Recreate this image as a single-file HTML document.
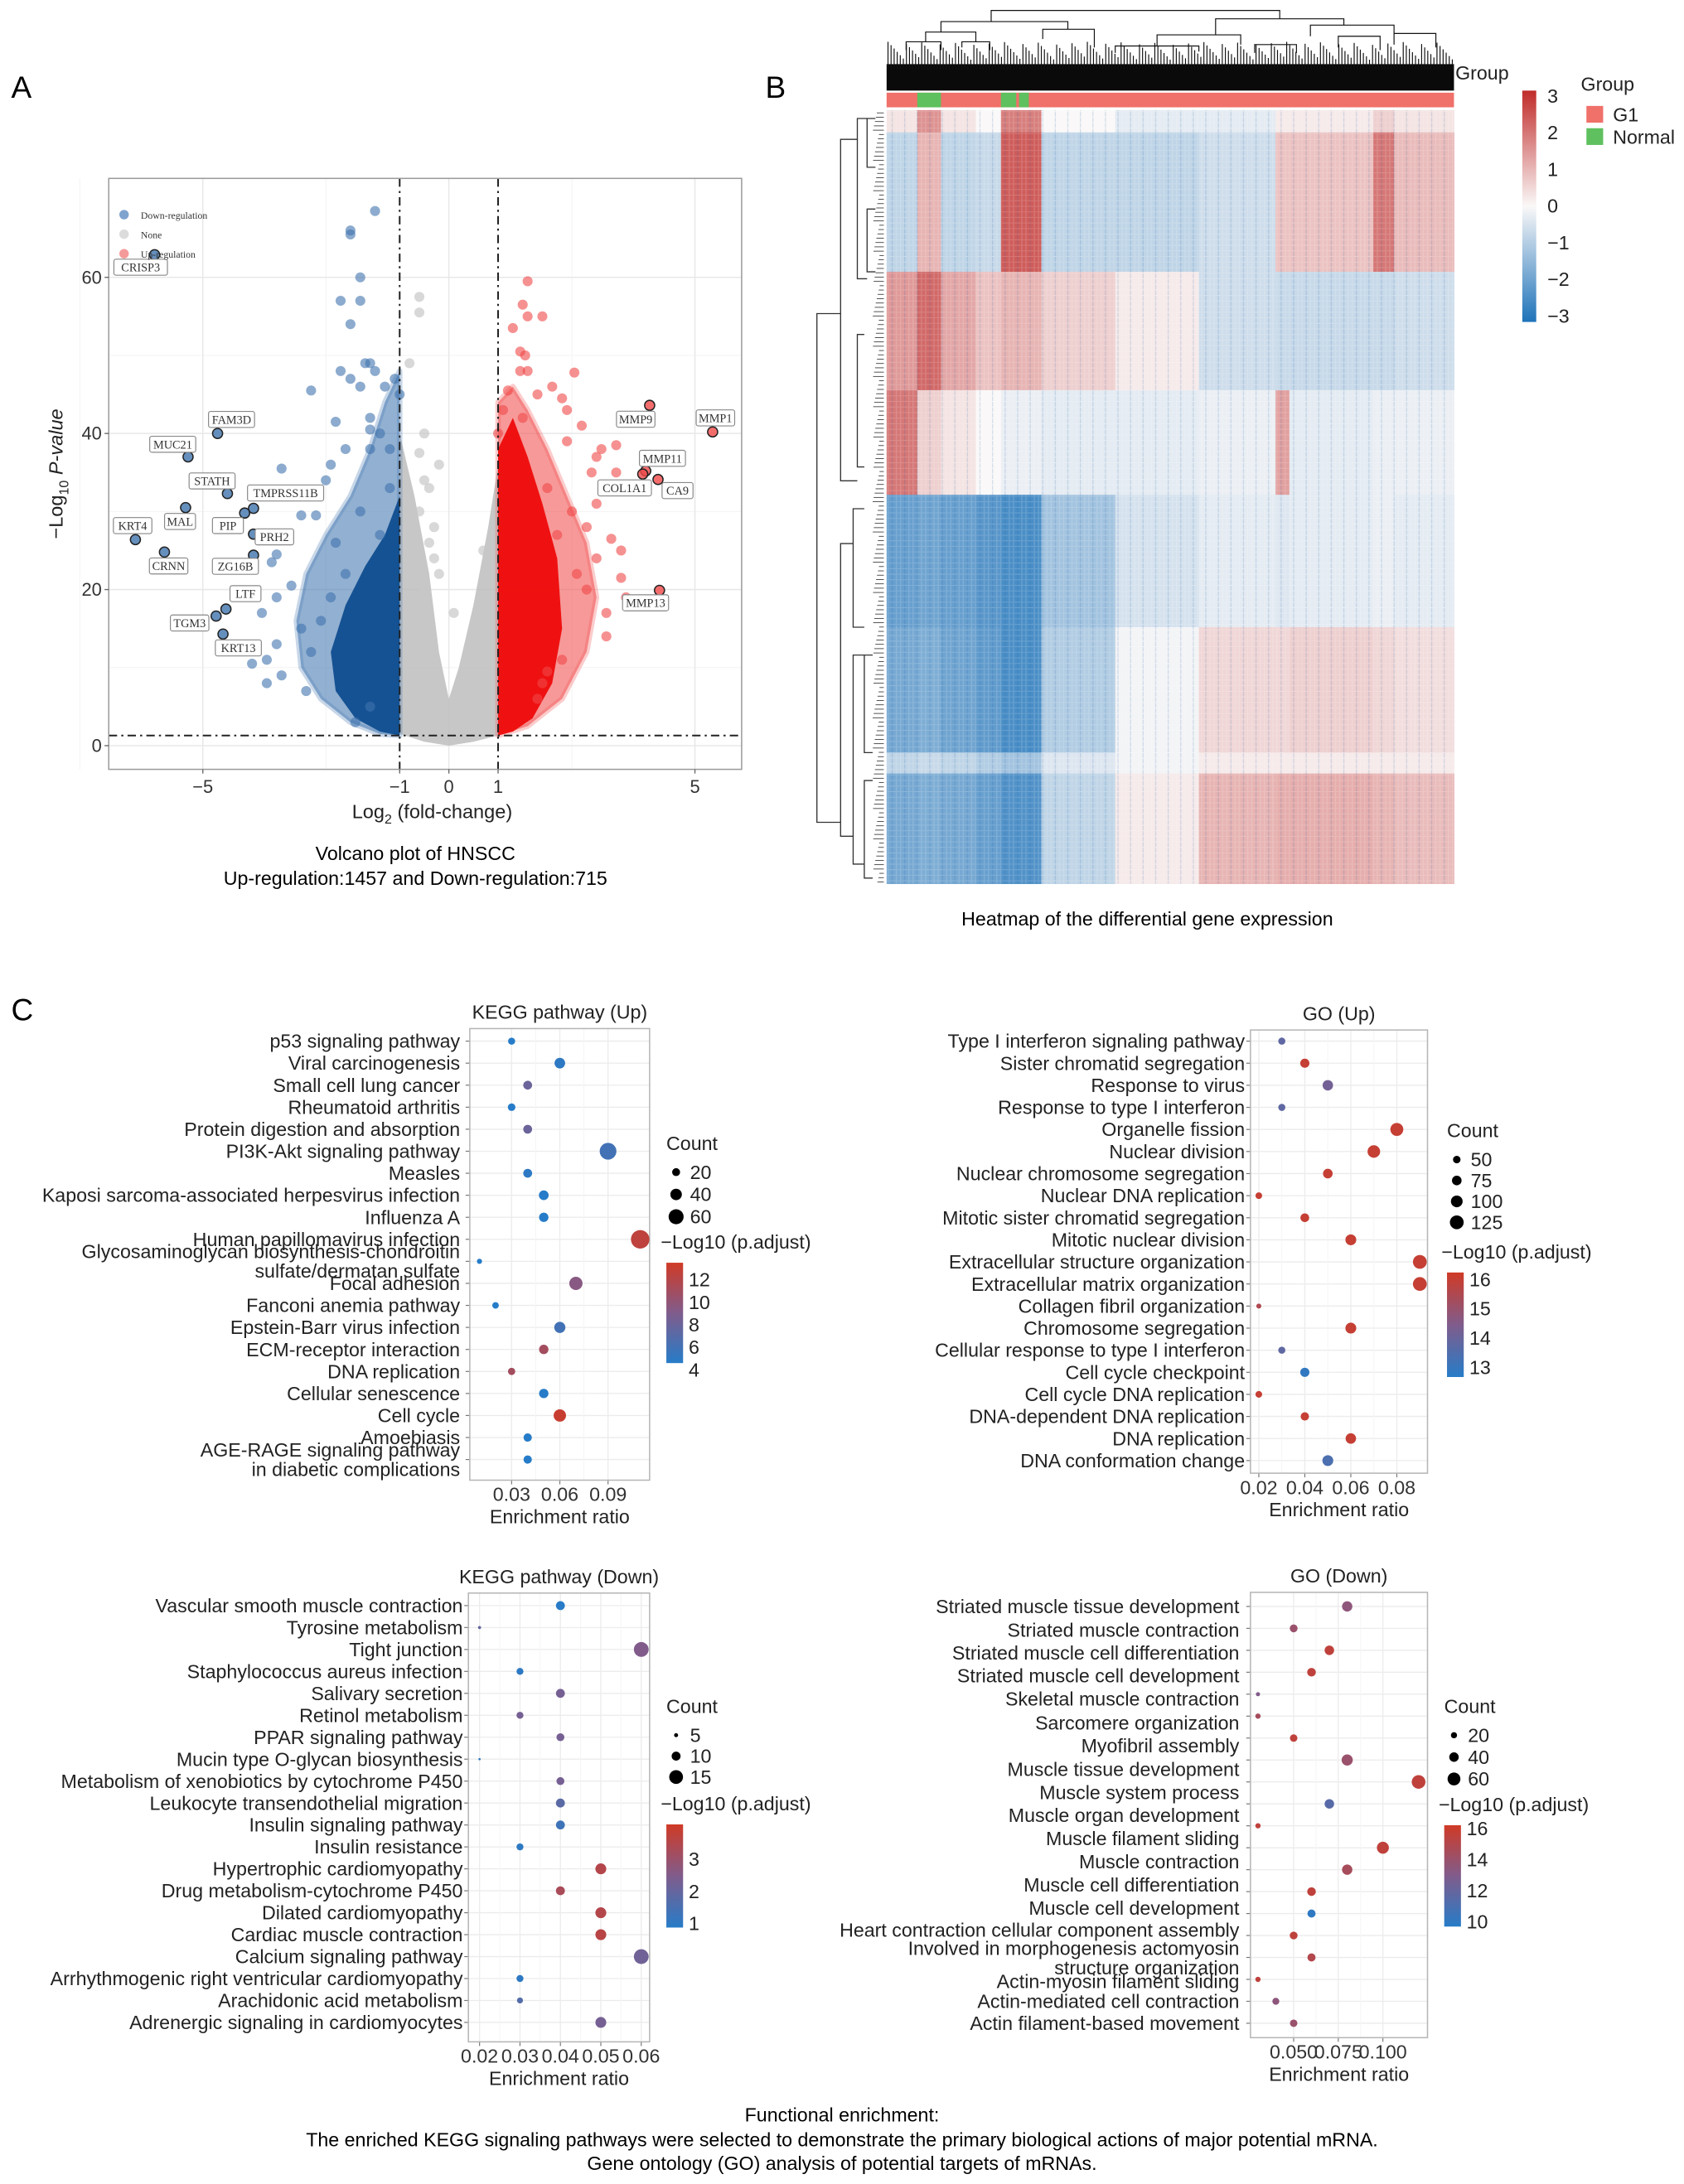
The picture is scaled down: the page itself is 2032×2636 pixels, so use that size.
<!DOCTYPE html>
<html><head><meta charset="utf-8"><title>HNSCC figure</title>
<style>
html,body{margin:0;padding:0;background:#fff;}
svg{display:block;font-family:"Liberation Sans",sans-serif;}
.serif{font-family:"Liberation Serif",serif;}
</style></head>
<body>
<svg id="fig" xmlns="http://www.w3.org/2000/svg" width="2032" height="2636" viewBox="0 0 1208 1567" preserveAspectRatio="none">
<rect x="0" y="0" width="1208" height="1567" fill="#fff"/>
<text x="8" y="70" font-size="22">A</text>
<text x="549" y="70" font-size="22">B</text>
<text x="8" y="732" font-size="22">C</text>
<text x="298" y="617" font-size="13.8" text-anchor="middle">Volcano plot of HNSCC</text>
<text x="298" y="635" font-size="13.8" text-anchor="middle">Up-regulation:1457 and Down-regulation:715</text>
<text x="823" y="664" font-size="13.8" text-anchor="middle">Heatmap of the differential gene expression</text>
<text x="604" y="1522" font-size="13.8" text-anchor="middle">Functional enrichment:</text>
<text x="604" y="1540" font-size="13.8" text-anchor="middle">The enriched KEGG signaling pathways were selected to demonstrate the primary biological actions of major potential mRNA.</text>
<text x="604" y="1557" font-size="13.8" text-anchor="middle">Gene ontology (GO) analysis of potential targets of mRNAs.</text>
</svg>
<script>
// ---------------- DATA ----------------
const geneNames = ["CRISP3","FAM3D","MUC21","STATH","TMPRSS11B","MAL","PIP","KRT4","CRNN","PRH2","ZG16B","LTF","TGM3","KRT13","MMP9","MMP1","MMP11","COL1A1","CA9","MMP13"];
const geneFC = [-5.98,-4.70,-5.30,-4.50,-3.97,-5.35,-4.15,-6.37,-5.78,-3.97,-3.97,-4.53,-4.73,-4.59,4.08,5.36,4.00,3.94,4.25,4.28];
const geneP = [62.9,40.0,37.0,32.3,30.4,30.5,29.8,26.4,24.8,27.1,24.4,17.5,16.6,14.3,43.6,40.2,35.2,34.8,34.1,19.9];
const geneLabelDX = [-10,10,-11,-11,23,-4,-12,-2,3,15,-13,14,-19,11,-10,2,12,-13,14,-10];
const geneLabelDY = [9,-10,-9,-9,-11,10,9,-10,10,2,8,-11,5,10,10,-10,-9,10,8,9];
const downFC = [-1.5,-2.0,-2.0,-1.8,-2.2,-1.8,-2.0,-1.6,-1.7,-2.2,-2.0,-1.8,-1.5,-1.3,-1.1,-1.0,-2.8,-2.3,-1.6,-1.6,-1.4,-1.2,-1.6,-2.1,-2.4,-3.4,-2.5,-2.7,-3.0,-3.3,-3.5,-3.6,-3.2,-3.5,-3.8,-4.0,-3.7,-3.5,-3.0,-3.7,-3.4,-2.9,-2.8,-2.4,-2.6,-2.1,-1.8,-1.2,-1.4,-2.3,-1.9,-1.6];
const downP = [68.5,65.5,66,60,57,57,54,49,49,48,47,46,48,46,47,45,45.5,41.5,42,40.5,40,38,38,38,36,35.5,34,29.5,29.5,27,24.5,23.5,20.5,19,17,10.5,11,13,15,8,9,7,12,19,16,22,30,33,27,26,3,5];
const upFC = [1.6,1.5,1.6,1.9,1.3,1.45,1.55,1.45,1.6,2.55,2.1,2.3,1.8,1.2,1.1,2.4,1.5,2.7,1.0,2.4,3.1,3.4,3.0,2.9,3.4,2.0,3.3,3.0,2.5,2.8,3.3,3.5,3.0,3.5,2.8,3.6,3.2,3.2,2.3,2.0,1.9,1.8,2.6,2.2];
const upP = [59.5,56.5,55,55,53.5,50.5,50,48,48,47.8,46,44.5,45,45.5,43,43,42,41,40,39,38,38.5,37,35,35,33,33,31,30,28,26.5,25,24,21.5,20,19,17,14,11,9.5,8,6,22,27];
const noneFC = [-0.6,-0.6,-0.8,-0.5,-0.6,-0.2,-0.5,-0.4,-0.6,-0.3,-0.4,-0.3,-0.8,-0.2,-0.5,0.1,0.5,0.7,0.6];
const noneP = [57.5,55.5,49,40,37.5,36,34,33,30,28,26,24,28,22,20,17,14,25,18];
const downCloud = [[-1,1.3],[-1,48],[-1.3,44],[-1.6,38],[-2,32],[-2.5,27],[-2.9,22],[-3.1,16],[-3.0,10],[-2.6,6],[-2.0,3],[-1.4,1.5]];
const downCore = [[-1,1.3],[-1,32],[-1.3,27],[-1.7,23],[-2.1,18],[-2.4,12],[-2.3,7],[-1.9,3.5],[-1.4,1.8]];
const upCloud = [[1,1.3],[1,44],[1.3,46],[1.6,43],[2.0,38],[2.4,32],[2.8,26],[3.0,19],[2.8,12],[2.3,6],[1.6,2.5]];
const upCore = [[1,1.3],[1,38],[1.3,42],[1.6,37],[1.9,31],[2.2,24],[2.3,15],[2.1,8],[1.7,3.5],[1.3,1.8]];
const noneCloud = [[-1,1.5],[-1,40],[-0.7,32],[-0.4,22],[-0.2,12],[0,6],[0.2,10],[0.5,18],[0.8,28],[1,36],[1,1.3],[0.5,0.5],[0,0],[-0.5,0.5]];
const volcanoXTicks = [-5,-1,0,1,5];
const volcanoYTicks = [0,20,40,60];

const heatRowEdges = [79,95,195,280,355,450,540,555,634];
const heatColEdges = [636,658,675,700,718,747,800,860,915,925,985,1000,1043];
const heatValues = [
 [0.3,1.5,0.3,0,1.8,0,-0.3,-0.3,0.2,0.2,0.6,0.3],
 [-0.8,1.0,-0.8,-0.7,2.3,-0.8,-0.8,-0.6,0.8,0.8,1.9,0.9],
 [1.4,2.1,1.2,0.8,1,0.6,0.2,-0.6,-0.7,-0.7,-0.7,-0.6],
 [1.9,0.6,0.3,0,-0.2,-0.3,-0.3,-0.2,1.3,-0.3,-0.2,-0.2],
 [-2.0,-1.9,-2.0,-2.2,-2.4,-1.2,-0.5,-0.3,-0.4,-0.3,-0.2,-0.3],
 [-1.8,-1.7,-1.9,-2.1,-2.4,-1.0,-0.1,0.5,0.5,0.6,0.5,0.4],
 [-0.8,-0.7,-0.8,-1.0,-1.2,-0.4,-0.1,0.2,0.2,0.2,0.2,0.2],
 [-1.8,-1.7,-1.8,-2.0,-2.3,-0.8,0.2,1.0,1.1,1.1,1.0,0.9]];
const groupNormalSpans = [[658,675],[718,729],[731,738]];
const heatLegendTicks = [3,2,1,0,-1,-2,-3];

const keggUpTerms = ["p53 signaling pathway","Viral carcinogenesis","Small cell lung cancer","Rheumatoid arthritis","Protein digestion and absorption","PI3K-Akt signaling pathway","Measles","Kaposi sarcoma-associated herpesvirus infection","Influenza A","Human papillomavirus infection","Glycosaminoglycan biosynthesis-chondroitin\nsulfate/dermatan sulfate","Focal adhesion","Fanconi anemia pathway","Epstein-Barr virus infection","ECM-receptor interaction","DNA replication","Cellular senescence","Cell cycle","Amoebiasis","AGE-RAGE signaling pathway\nin diabetic complications"];
const keggUpRatio = [0.03,0.06,0.04,0.03,0.04,0.09,0.04,0.05,0.05,0.11,0.01,0.07,0.02,0.06,0.05,0.03,0.05,0.06,0.04,0.04];
const keggUpCount = [15,35,25,18,25,70,25,30,28,80,4,50,12,38,28,16,28,45,22,22];
const keggUpPadj = [4.2,5,8,4.5,8,6,5,4.2,4.2,12.5,4.2,9.5,4,6,11,11,4.3,13,4.3,4.3];
const keggUpXTicks = [0.03,0.06,0.09];
const keggUpCountLegend = [20,40,60];
const keggUpColorTicks = [12,10,8,6,4];

const goUpTerms = ["Type I interferon signaling pathway","Sister chromatid segregation","Response to virus","Response to type I interferon","Organelle fission","Nuclear division","Nuclear chromosome segregation","Nuclear DNA replication","Mitotic sister chromatid segregation","Mitotic nuclear division","Extracellular structure organization","Extracellular matrix organization","Collagen fibril organization","Chromosome segregation","Cellular response to type I interferon","Cell cycle checkpoint","Cell cycle DNA replication","DNA-dependent DNA replication","DNA replication","DNA conformation change"];
const goUpRatio = [0.03,0.04,0.05,0.03,0.08,0.07,0.05,0.02,0.04,0.06,0.09,0.09,0.02,0.06,0.03,0.04,0.02,0.04,0.06,0.05];
const goUpCount = [45,70,85,45,115,110,75,40,65,90,125,125,20,90,45,70,40,60,85,90];
const goUpPadj = [13.8,16,14.2,13.8,16,16,16,16,16,16,16,16,15.5,16,13.8,12.9,16,16,16,13.4];
const goUpXTicks = [0.02,0.04,0.06,0.08];
const goUpCountLegend = [50,75,100,125];
const goUpColorTicks = [16,15,14,13];

const keggDownTerms = ["Vascular smooth muscle contraction","Tyrosine metabolism","Tight junction","Staphylococcus aureus infection","Salivary secretion","Retinol metabolism","PPAR signaling pathway","Mucin type O-glycan biosynthesis","Metabolism of xenobiotics by cytochrome P450","Leukocyte transendothelial migration","Insulin signaling pathway","Insulin resistance","Hypertrophic cardiomyopathy","Drug metabolism-cytochrome P450","Dilated cardiomyopathy","Cardiac muscle contraction","Calcium signaling pathway","Arrhythmogenic right ventricular cardiomyopathy","Arachidonic acid metabolism","Adrenergic signaling in cardiomyocytes"];
const keggDownRatio = [0.04,0.02,0.06,0.03,0.04,0.03,0.04,0.02,0.04,0.04,0.04,0.03,0.05,0.04,0.05,0.05,0.06,0.03,0.03,0.05];
const keggDownCount = [10,4,16,8,10,8,9,3,9,10,10,8,12,10,12,12,16,8,7,12];
const keggDownPadj = [0.9,2,2.5,1,2.3,2.3,2.3,1,2.3,1.8,1.3,1,3.5,3.3,3.5,3.6,2.2,1,1.7,2.3];
const keggDownXTicks = [0.02,0.03,0.04,0.05,0.06];
const keggDownCountLegend = [5,10,15];
const keggDownColorTicks = [3,2,1];

const goDownTerms = ["Striated muscle tissue development","Striated muscle contraction","Striated muscle cell differentiation","Striated muscle cell development","Skeletal muscle contraction","Sarcomere organization","Myofibril assembly","Muscle tissue development","Muscle system process","Muscle organ development","Muscle filament sliding","Muscle contraction","Muscle cell differentiation","Muscle cell development","Heart contraction cellular component assembly","Involved in morphogenesis actomyosin\nstructure organization","Actin-myosin filament sliding","Actin-mediated cell contraction","Actin filament-based movement"];
const goDownRatio = [0.08,0.05,0.07,0.06,0.03,0.03,0.05,0.08,0.12,0.07,0.03,0.10,0.08,0.06,0.06,0.05,0.06,0.03,0.04,0.05];
const goDownCount = [45,30,40,35,8,15,28,50,65,40,15,55,45,35,32,30,32,15,25,28];
const goDownPadj = [13.5,14,15.5,15.5,13,14.5,15.5,14,15.5,11.5,15.5,15.5,14.5,15.5,10,15.5,15,15.5,13.5,14];
const goDownXTicks = [0.05,0.075,0.10];
const goDownXTickText = ["0.050","0.075","0.100"];
const goDownCountLegend = [20,40,60];
const goDownColorTicks = [16,14,12,10];

// ---------------- HELPERS ----------------
const NS = 'http://www.w3.org/2000/svg';
const svg = document.getElementById('fig');
function mk(tag, attrs, parent){const e=document.createElementNS(NS,tag);for(const k in attrs)e.setAttribute(k,attrs[k]);(parent||svg).appendChild(e);return e;}
function txt(s, x, y, attrs, parent){const e=mk('text',Object.assign({x:x,y:y},attrs||{}),parent);e.textContent=s;return e;}
function lerp(a,b,t){return Math.round(a+(b-a)*t);}
function divColor(t){
  t=Math.max(0,Math.min(1,t));
  const lo=[38,124,200], mid=[128,92,140], hi=[208,58,38];
  let a,b,u; if(t<0.5){a=lo;b=mid;u=t/0.5;}else{a=mid;b=hi;u=(t-0.5)/0.5;}
  return 'rgb('+lerp(a[0],b[0],u)+','+lerp(a[1],b[1],u)+','+lerp(a[2],b[2],u)+')';
}
function heatColor(v){
  const t=Math.max(-3,Math.min(3,v))/3;
  if(t>=0) return 'rgb('+lerp(250,192,t)+','+lerp(248,44,t)+','+lerp(248,42,t)+')';
  const u=-t; return 'rgb('+lerp(250,30,u)+','+lerp(248,115,u)+','+lerp(248,185,u)+')';
}
const defs = mk('defs',{});
const FS = 13.8;

// ---------------- VOLCANO ----------------
const vx0=78, vx1=532, vy0=128, vy1=552;
function vX(fc){return 322+fc*35.3;}
function vY(p){return 535-p*5.6;}
const vg = mk('g',{});


const vclip = mk('clipPath',{id:'vclip'},vg);
mk('rect',{x:vx0,y:vy0,width:vx1-vx0,height:vy1-vy0},vclip);
[-7.5,-2.5,2.5].forEach(v=>{const l=mk('line',{x1:vX(v),x2:vX(v),y1:vy0,y2:vy1,stroke:'#f3f3f3','stroke-width':0.6},vg);

});
[10,30,50].forEach(v=>{const l=mk('line',{x1:vx0,x2:vx1,y1:vY(v),y2:vY(v),stroke:'#f3f3f3','stroke-width':0.6},vg);

});
[-5,0,5].forEach(v=>{const l=mk('line',{x1:vX(v),x2:vX(v),y1:vy0,y2:vy1,stroke:'#e8e8e8','stroke-width':0.9},vg);

});
volcanoYTicks.forEach(v=>{const l=mk('line',{x1:vx0,x2:vx1,y1:vY(v),y2:vY(v),stroke:'#e8e8e8','stroke-width':0.9},vg);

});
const cg = mk('g',{'clip-path':'url(#vclip)'},vg);
function poly(pts){return pts.map(p=>vX(p[0]).toFixed(1)+','+vY(p[1]).toFixed(1)).join(' ');}
const nc = mk('polygon',{points:poly(noneCloud),fill:'#bdbdbd','fill-opacity':0.85},cg);


const dc = mk('polygon',{points:poly(downCloud),fill:'#4a7cb3','fill-opacity':0.6,stroke:'#4a7cb3','stroke-width':4,'stroke-linejoin':'round','stroke-opacity':0.3},cg);


const dk = mk('polygon',{points:poly(downCore),fill:'#0f4d8f','fill-opacity':0.95},cg);


const uc = mk('polygon',{points:poly(upCloud),fill:'#f25555','fill-opacity':0.6,stroke:'#f25555','stroke-width':4,'stroke-linejoin':'round','stroke-opacity':0.3},cg);


const uk = mk('polygon',{points:poly(upCore),fill:'#ee0a0a','fill-opacity':0.95},cg);


noneFC.forEach((fc,i)=>{const c=mk('circle',{cx:vX(fc),cy:vY(noneP[i]),r:3.6,fill:'#c8c8c8','fill-opacity':0.7},cg);

});
downFC.forEach((fc,i)=>{const c=mk('circle',{cx:vX(fc),cy:vY(downP[i]),r:3.6,fill:'#3f73ad','fill-opacity':0.6},cg);

});
upFC.forEach((fc,i)=>{const c=mk('circle',{cx:vX(fc),cy:vY(upP[i]),r:3.6,fill:'#f04848','fill-opacity':0.6},cg);

});
const dash='6,3,1.5,3';
[-1,1].forEach(v=>{const l=mk('line',{x1:vX(v),x2:vX(v),y1:vy0,y2:vy1,stroke:'#222','stroke-width':1.2,'stroke-dasharray':dash},vg);

});
const ht = mk('line',{x1:vx0,x2:vx1,y1:vY(1.3),y2:vY(1.3),stroke:'#222','stroke-width':1.2,'stroke-dasharray':dash},vg);


geneNames.forEach((g,i)=>{
  const x=vX(geneFC[i]), y=vY(geneP[i]);
  const col = geneFC[i]<0 ? '#3f73ad' : '#f04848';
  const c=mk('circle',{cx:x,cy:y,r:3.6,fill:col,'fill-opacity':0.8,stroke:'#222','stroke-width':0.9},vg);
  
  
  const lx=x+geneLabelDX[i], ly=y+geneLabelDY[i];
  const w=g.length*5.4+6;
  const r=mk('rect',{x:lx-w/2,y:ly-5.8,width:w,height:11.5,rx:1.5,fill:'#fff',stroke:'#888','stroke-width':0.7},vg);
  
  
  const t=txt(g,lx,ly+3,{'font-size':8.5,'text-anchor':'middle',fill:'#333','class':'serif'},vg);
  
  
});
const vb = mk('rect',{x:vx0,y:vy0,width:vx1-vx0,height:vy1-vy0,fill:'none',stroke:'#9a9a9a','stroke-width':0.9},vg);


[['Down-regulation','#7fa3cf'],['None','#dcdcdc'],['Up-regulation','#f49a9a']].forEach((e,i)=>{
  const c=mk('circle',{cx:89,cy:154+i*14,r:3.4,fill:e[1]},vg);
  
  
  const t=txt(e[0],101,157+i*14,{'font-size':7,fill:'#333','class':'serif'},vg);
  
  
});
volcanoXTicks.forEach(v=>{
  const t=txt(v<0?'\u2212'+(-v):String(v),vX(v),569,{'font-size':13,'text-anchor':'middle',fill:'#333'},vg);
  
  
  const k=mk('line',{x1:vX(v),x2:vX(v),y1:vy1,y2:vy1+3,stroke:'#666','stroke-width':0.8},vg);
  
  
});
volcanoYTicks.forEach(v=>{
  const t=txt(String(v),73,vY(v)+4.5,{'font-size':13,'text-anchor':'end',fill:'#333'},vg);
  
  
  const k=mk('line',{x1:vx0-3,x2:vx0,y1:vY(v),y2:vY(v),stroke:'#666','stroke-width':0.8},vg);
  
  
});
const xt = mk('text',{x:310,y:587,'font-size':14,'text-anchor':'middle',fill:'#222'},vg);


xt.innerHTML='Log<tspan font-size="9.5" dy="4">2</tspan><tspan dy="-4"> (fold-change)</tspan>';
const yt = mk('text',{x:0,y:0,'font-size':14,'text-anchor':'middle',fill:'#222',transform:'translate(45,340) rotate(-90)'},vg);


yt.innerHTML='\u2212Log<tspan font-size="9.5" dy="4">10</tspan><tspan dy="-4" font-style="italic"> P-value</tspan>';

// ---------------- HEATMAP ----------------
const hg = mk('g',{});


heatValues.forEach((row,ri)=>{
  row.forEach((v,ci)=>{
    const r=mk('rect',{x:heatColEdges[ci],y:heatRowEdges[ri],width:heatColEdges[ci+1]-heatColEdges[ci]+0.3,height:heatRowEdges[ri+1]-heatRowEdges[ri]+0.3,fill:heatColor(v)},hg);
    
    
  });
});
const tex = mk('g',{opacity:0.16},hg);


for(let x=637;x<1043;x+=3){mk('line',{x1:x,x2:x,y1:79,y2:634,stroke:(x%9===1)?'#1f5fa8':'#ffffff','stroke-width':0.8},tex);}
for(let y=80;y<634;y+=4){mk('line',{x1:636,x2:1043,y1:y,y2:y,stroke:'#ffffff','stroke-width':0.6},tex);}
const gb = mk('rect',{x:636,y:66.5,width:407,height:10.5,fill:'#f0706a'},hg);


groupNormalSpans.forEach(s=>{const r=mk('rect',{x:s[0],y:66.5,width:s[1]-s[0],height:10.5,fill:'#5ec05e'},hg);

});
const gl = txt('Group',1044,57,{'font-size':FS,fill:'#222'},hg);


// top dendrogram
const td = mk('g',{stroke:'#111','stroke-width':0.7,fill:'none'},hg);


mk('rect',{x:636,y:46,width:407,height:19,fill:'#0a0a0a',stroke:'none'},td);
for(let x=637;x<1043;x+=2.2){mk('line',{x1:x,x2:x,y1:30+((x*7)%13),y2:50},td);}
[[711,918,7.5,15.5,13.5],[675,766,15.5,23,21],[872,964,13.5,25,18],[664,700,23,30,30],[748,785,21,28,34],[830,890,25,33,32],[940,1000,18,26,24],[650,675,30,36,36],[690,710,30,34,36],[1000,1030,24,32,34],[800,860,33,38,37],[900,930,32,38,38],[960,990,26,34,36]].forEach(b=>{
  mk('path',{d:'M'+b[0]+','+b[3]+' V'+b[2]+' H'+b[1]+' V'+b[4]},td);
});
// left dendrogram
const ld = mk('g',{stroke:'#333','stroke-width':0.8,fill:'none'},hg);


[[586,225,590,603],[603,100,345,615],[603,390,600,612],[615,85,200,622],[615,240,335,620],[612,365,450,620],[612,470,620,620],[620,470,540,626],[620,560,630,626],[622,85,120,628],[622,150,195,628]].forEach(b=>{
  mk('path',{d:'M'+b[3]+','+b[1]+' H'+b[0]+' V'+b[2]+' H'+b[3]},ld);
});
for(let y=81;y<634;y+=3.1){mk('line',{x1:626+((y*3)%5),x2:634,y1:y,y2:y,'stroke-width':0.5},ld);}
const grad = mk('linearGradient',{id:'hgrad',x1:0,y1:0,x2:0,y2:1},defs);
[[0,3],[0.5,0],[1,-3]].forEach(s=>mk('stop',{offset:s[0],'stop-color':heatColor(s[1])},grad));
const hl = mk('rect',{x:1092,y:65,width:10,height:166,fill:'url(#hgrad)'},hg);


heatLegendTicks.forEach(v=>{
  const y=148-v*26.3;
  const t=txt(v<0?'\u2212'+(-v):String(v),1110,y+4.5,{'font-size':FS,fill:'#222'},hg);
  
  
});
const glt = txt('Group',1134,65,{'font-size':FS,fill:'#222'},hg);


[['G1','#f0706a'],['Normal','#5ec05e']].forEach((e,i)=>{
  const r=mk('rect',{x:1138,y:76+i*16,width:12,height:12,fill:e[1]},hg);
  
  
  const t=txt(e[0],1157,87+i*16,{'font-size':FS,fill:'#222'},hg);
  
  
});

// ---------------- DOT PLOTS ----------------
function dotPlot(cfg, terms, ratio, count, padj, xTicks, xTickText, countLegend, colorTicks, labelYs){
  const g = mk('g',{});
  
  
  const X = v => cfg.xa + (v-cfg.va)*cfg.xs;
  const rowY = i => cfg.r0 + i*cfg.rs;
  const R = c => Math.max(0.8, cfg.ra + cfg.rb*c);
  const C = v => divColor((v-cfg.cmin)/(cfg.cmax-cfg.cmin));
  const n = ratio.length;
  for(let i=0;i<n;i++){const l=mk('line',{x1:cfg.x0,x2:cfg.x1,y1:rowY(i),y2:rowY(i),stroke:'#ececec','stroke-width':0.8},g);
    
    
    const k=mk('line',{x1:cfg.x0-3,x2:cfg.x0,y1:rowY(i),y2:rowY(i),stroke:'#777','stroke-width':0.7},g);
    
    }
  for(let i=0;i<xTicks.length;i++){
    const x=X(xTicks[i]);
    const l=mk('line',{x1:x,x2:x,y1:cfg.y0,y2:cfg.y1,stroke:'#ececec','stroke-width':0.8},g);
    
    
    if(i<xTicks.length-1){const xm=(x+X(xTicks[i+1]))/2;
      const m=mk('line',{x1:xm,x2:xm,y1:cfg.y0,y2:cfg.y1,stroke:'#f5f5f5','stroke-width':0.6},g);
      
      }
    const k=mk('line',{x1:x,x2:x,y1:cfg.y1,y2:cfg.y1+3,stroke:'#777','stroke-width':0.7},g);
    
    
    const t=txt(xTickText?xTickText[i]:String(xTicks[i]),x,cfg.y1+15,{'font-size':FS,'text-anchor':'middle',fill:'#333'},g);
    
    
  }
  const b=mk('rect',{x:cfg.x0,y:cfg.y0,width:cfg.x1-cfg.x0,height:cfg.y1-cfg.y0,fill:'none',stroke:'#b5b5b5','stroke-width':0.9},g);
  
  
  for(let i=0;i<n;i++){
    const c=mk('circle',{cx:X(ratio[i]),cy:rowY(i),r:R(count[i]),fill:C(padj[i])},g);
    
    
  }
  terms.forEach((s,i)=>{
    const lines=s.split('\n');
    const y = labelYs ? labelYs[i] : rowY(i);
    lines.forEach((ln,j)=>{
      const yy = lines.length>1 ? y + (j-0.5)*14 + 4.8 : y+4.8;
      const t=txt(ln,cfg.lx,yy,{'font-size':FS,'text-anchor':'end',fill:'#222'},g);
      
      
    });
  });
  const tt=txt(cfg.title,(cfg.x0+cfg.x1)/2,cfg.y0-7,{'font-size':FS,'text-anchor':'middle',fill:'#222'},g);
  
  
  const xa=txt('Enrichment ratio',(cfg.x0+cfg.x1)/2,cfg.y1+31,{'font-size':FS,'text-anchor':'middle',fill:'#222'},g);
  
  
  const ct=txt('Count',cfg.lgx,cfg.cly,{'font-size':FS,fill:'#222'},g);
  
  
  countLegend.forEach((v,i)=>{
    const y=cfg.cly+16+i*cfg.cls;
    const c=mk('circle',{cx:cfg.lgx+7,cy:y,r:R(v),fill:'#000'},g);
    
    
    const t=txt(String(v),cfg.lgx+17,y+4.8,{'font-size':FS,fill:'#222'},g);
    
    
  });
  const lt=txt('\u2212Log10 (p.adjust)',cfg.lgx-4,cfg.cby0-10,{'font-size':FS,fill:'#222'},g);
  
  
  const gid='g'+cfg.name;
  const gr=mk('linearGradient',{id:gid,x1:0,y1:1,x2:0,y2:0},defs);
  [0,0.5,1].forEach(o=>mk('stop',{offset:o,'stop-color':divColor(o)},gr));
  const bar=mk('rect',{x:cfg.lgx,y:cfg.cby0,width:12,height:cfg.cby1-cfg.cby0,fill:'url(#'+gid+')'},g);
  
  
  colorTicks.forEach(v=>{
    const y=cfg.cby1-(v-cfg.cmin)/(cfg.cmax-cfg.cmin)*(cfg.cby1-cfg.cby0);
    const t=txt(String(v),cfg.lgx+16,y+4.8,{'font-size':FS,fill:'#222'},g);
    
    
  });
}

dotPlot({name:'kegg-up-plot',title:'KEGG pathway (Up)',x0:337,x1:466,y0:738,y1:1062,xa:367,va:0.03,xs:1153,r0:747,rs:15.8,lx:330,
  ra:1.6,rb:0.063,cmin:4.6,cmax:13.5,lgx:478,cly:825,cls:16,cby0:906,cby1:978},
  keggUpTerms,keggUpRatio,keggUpCount,keggUpPadj,keggUpXTicks,null,keggUpCountLegend,keggUpColorTicks,null);
dotPlot({name:'go-up-plot',title:'GO (Up)',x0:897,x1:1024,y0:739,y1:1057,xa:903,va:0.02,xs:1650,r0:747,rs:15.84,lx:893,
  ra:1.2,rb:0.03,cmin:12.67,cmax:16.24,lgx:1038,cly:816,cls:15,cby0:913,cby1:988},
  goUpTerms,goUpRatio,goUpCount,goUpPadj,goUpXTicks,null,goUpCountLegend,goUpColorTicks,null);
dotPlot({name:'kegg-down-plot',title:'KEGG pathway (Down)',x0:336,x1:466,y0:1143,y1:1465,xa:344,va:0.02,xs:2900,r0:1152,rs:15.74,lx:332,
  ra:-0.3,rb:0.35,cmin:0.87,cmax:4.09,lgx:478,cly:1229,cls:15,cby0:1309,cby1:1383},
  keggDownTerms,keggDownRatio,keggDownCount,keggDownPadj,keggDownXTicks,null,keggDownCountLegend,keggDownColorTicks,null);
const goDownLabelY = [1152.6,1169.5,1185.8,1202.3,1219,1236,1252.5,1269.5,1286,1302.5,1319.2,1335.7,1352.5,1369,1384.8,1404.8,1421.6,1435.8,1451.5];
dotPlot({name:'go-down-plot',title:'GO (Down)',x0:897,x1:1024,y0:1142.5,y1:1462,xa:928,va:0.05,xs:1280,r0:1152.6,rs:15.74,lx:889,
  ra:1.0,rb:0.06,cmin:9.7,cmax:16.2,lgx:1036,cly:1229,cls:15.7,cby0:1309.6,cby1:1382.3},
  goDownTerms,goDownRatio,goDownCount,goDownPadj,goDownXTicks,goDownXTickText,goDownCountLegend,goDownColorTicks,goDownLabelY);
</script>
</body></html>
